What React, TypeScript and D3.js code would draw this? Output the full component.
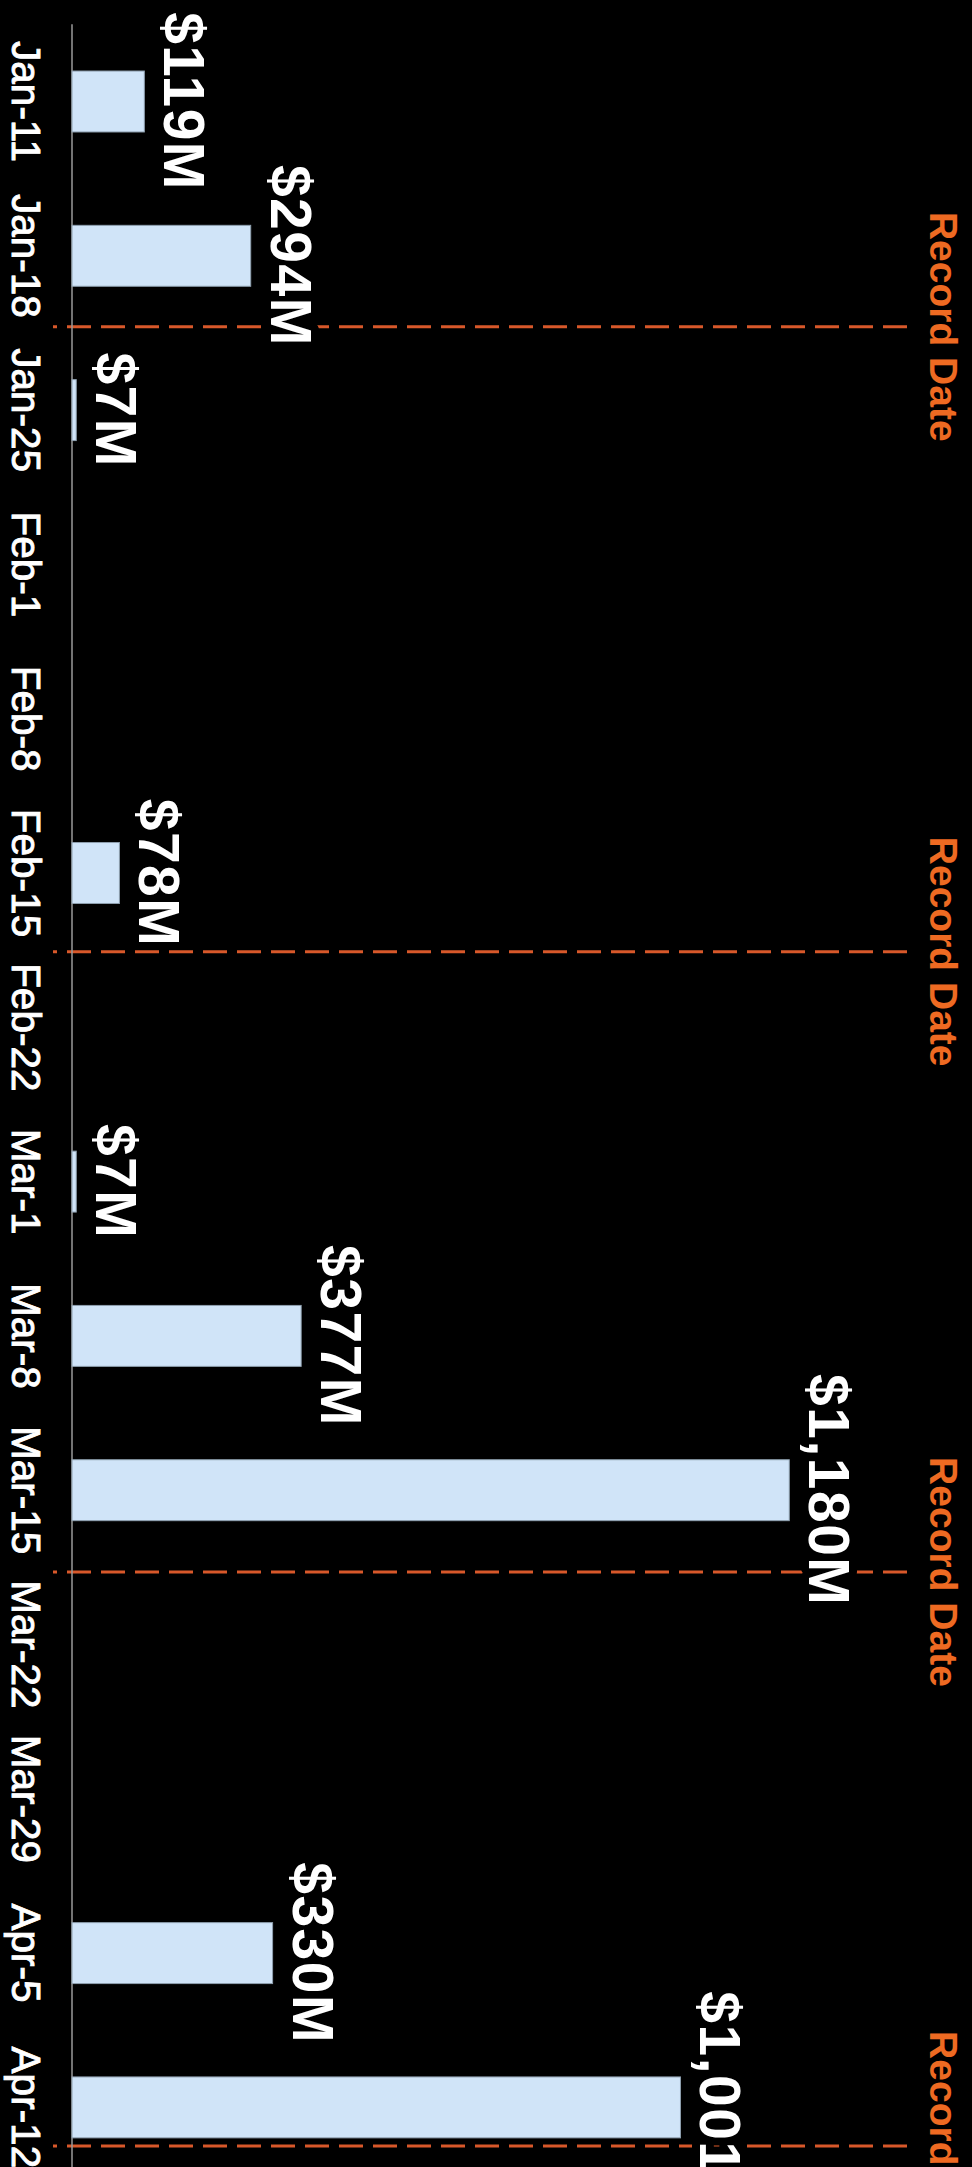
import React, { useEffect } from "react";
import * as d3 from "d3";

// Weekly categories (x axis in the original, unrotated chart)
const weeks: string[] = [
  "Jan-11", "Jan-18", "Jan-25", "Feb-1", "Feb-8", "Feb-15", "Feb-22",
  "Mar-1", "Mar-8", "Mar-15", "Mar-22", "Mar-29", "Apr-5", "Apr-12",
];
// Values in $M (null = no bar)
const values: (number | null)[] = [
  119, 294, 7, null, null, 78, null, 7, 377, 1180, null, null, 330, 1001,
];
// Record dates, expressed as position in weeks from Jan-11
const recordWeekPos: number[] = [1.46, 5.51, 9.53, 13.25];
const recordLabel = "Record Date";

const W = 972;
const H = 2167;

export default function App() {
  useEffect(() => {
    document.body.style.margin = "0";
    document.body.style.background = "#000";
  }, []);

  // inner (unrotated) frame: u along screen y, v = W - screen x
  const innerW = H;
  const baseV = 900;

  const x = d3
    .scaleBand<string>()
    .domain(weeks)
    .range([24.35, 24.35 + 14 * 154.3])
    .paddingInner(0.605)
    .paddingOuter(0.3025);
  const y = d3.scaleLinear().domain([0, 1400]).range([baseV, 49]);
  const center = (w: string) => (x(w) as number) + x.bandwidth() / 2;
  const wk = d3
    .scaleLinear()
    .domain([0, weeks.length - 1])
    .range([center(weeks[0]), center(weeks[weeks.length - 1])]);

  const fmt = (v: number) => "$" + d3.format(",")(v) + "M";
  const font = "'Liberation Sans', Arial, Helvetica, sans-serif";

  return (
    <svg width={W} height={H} style={{ display: "block", background: "#000" }}>
      <rect width={W} height={H} fill="#000" />
      <g transform={`translate(${W},0) rotate(90)`}>
        {/* record date lines */}
        {recordWeekPos.map((p, i) => (
          <g key={"r" + i}>
            <line
              x1={wk(p)}
              x2={wk(p)}
              y1={65}
              y2={919}
              stroke="#D8582A"
              strokeWidth={3}
              strokeDasharray="24,10"
            />
            <text
              x={wk(p)}
              y={42}
              textAnchor="middle"
              fill="#EE6A22"
              fontFamily={font}
              fontWeight="bold"
              fontSize={39}
            >
              {recordLabel}
            </text>
          </g>
        ))}
        {/* axis line */}
        <line
          x1={x.range()[0]}
          x2={innerW}
          y1={baseV}
          y2={baseV}
          stroke="#9a9a9a"
          strokeWidth={1.5}
        />
        {/* bars */}
        {weeks.map((w, i) =>
          values[i] == null ? null : (
            <rect
              key={"b" + i}
              x={x(w)}
              y={y(values[i] as number)}
              width={x.bandwidth()}
              height={baseV - y(values[i] as number)}
              fill="#D0E4F8"
              stroke="#8E9FAE"
              strokeWidth={1}
            />
          )
        )}
        {/* value labels */}
        {weeks.map((w, i) =>
          values[i] == null ? null : (
            <text
              key={"v" + i}
              x={center(w)}
              y={y(values[i] as number) - 20}
              textAnchor="middle"
              fill="#fff"
              fontFamily={font}
              fontWeight="bold"
              fontSize={57}
              letterSpacing={1.5}
              stroke="#000"
              strokeWidth={16}
              strokeLinejoin="round"
              style={{ paintOrder: "stroke" }}
            >
              {fmt(values[i] as number)}
            </text>
          )
        )}
        {/* axis labels */}
        {weeks.map((w) => (
          <text
            key={"l" + w}
            x={center(w)}
            y={960}
            textAnchor="middle"
            fill="#fff"
            stroke="#fff"
            strokeWidth={0.9}
            fontFamily={font}
            fontSize={40.5}
          >
            {w}
          </text>
        ))}
      </g>
    </svg>
  );
}
